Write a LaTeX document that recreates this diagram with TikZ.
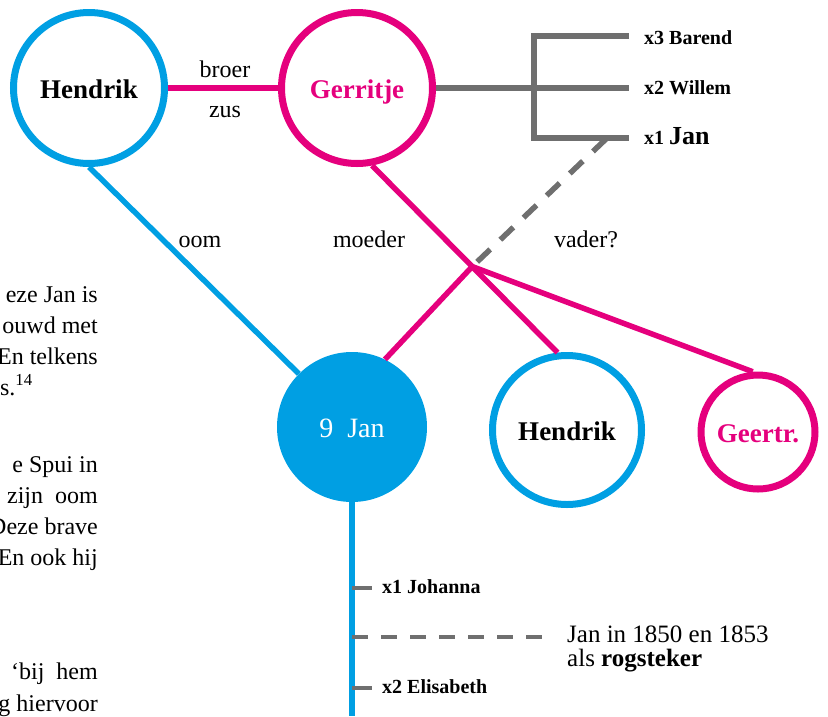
\documentclass[tikz,border=0pt]{standalone}
\usepackage{fontspec}
\setmainfont{Liberation Serif}
\usetikzlibrary{calc}
\definecolor{famblue}{HTML}{009FE3}
\definecolor{fammagenta}{HTML}{E5007D}
\definecolor{famgray}{HTML}{6F6F6F}
\tikzset{
  person/.style={circle,draw,line width=7pt,inner sep=0pt,minimum size=151pt,text height=20pt,text depth=0pt,font=\fontsize{27}{30}\selectfont\bfseries},
  man/.style={person,draw=famblue},
  woman/.style={person,draw=fammagenta,text=fammagenta},
  kid/.style={circle,fill=famblue,inner sep=0pt,minimum size=150pt,text height=20pt,text depth=0pt,text=white,font=\fontsize{28}{30}\selectfont},
  famline/.style={line width=5.5pt},
  grayline/.style={famgray,line width=5.5pt},
  tickline/.style={famgray,line width=3.5pt},
  guess/.style={grayline,dash pattern=on 18pt off 14pt},
  rel/.style={anchor=base,inner sep=0pt,font=\fontsize{24}{28}\selectfont},
  partner/.style={anchor=base west,inner sep=0pt,font=\fontsize{20}{24}\selectfont\bfseries},
  body/.style={anchor=base east,inner sep=0pt,font=\fontsize{24}{28}\selectfont}
}
\begin{document}
\begin{tikzpicture}[x=1pt,y=-1pt]
    \useasboundingbox (0,0) rectangle (828,716);
    \node[body] (body1) at (98,302) {eze Jan is};
    \node[body] (body2) at (98,333) {ouwd met};
    \node[body] (body3) at (98,364) {En telkens};
    \node[body] (body4) at (33,395) {rs.\textsuperscript{14}};
    \node[body] (body5) at (98,472) {e Spui in};
    \node[body] (body6) at (98,503) {zijn\ \ oom};
    \node[body] (body7) at (98,534) {Deze brave};
    \node[body] (body8) at (98,565) {En ook hij};
    \node[body] (body9) at (98,679) {`bij\ \ hem};
    \node[body] (body10) at (98,711) {g hiervoor};

    \node[man] (hendrik) at (89,88) {Hendrik};
    \node[woman] (gerritje) at (357,88) {Gerritje};
    \node[kid] (jan) at (352,427) {9\ \ Jan};
    \node[man,minimum size=149pt] (hendrikb) at (567,430) {Hendrik};
    \node[woman,minimum size=114pt] (geertr) at (758,432) {Geertr.};

    \node[partner] (barend) at (644,44) {x3 Barend};
    \node[partner] (willem) at (644,94) {x2 Willem};
    \node[partner] (janx) at (644,144) {x1 {\fontsize{26}{28}\selectfont Jan}};
    \node[partner] (johanna) at (382,593) {x1 Johanna};
    \node[partner] (elisabeth) at (382,693) {x2 Elisabeth};
    \node[anchor=north west,inner sep=0pt,align=left,font=\fontsize{25}{24}\selectfont] (rogsteker) at (567,626) {Jan in 1850 en 1853\\als \textbf{rogsteker}};

    \node[rel] (broer) at (225,77) {broer};
    \node[rel] (zus) at (225,117) {zus};
    \node[rel] (oom) at (200,247) {oom};
    \node[rel] (moeder) at (369,247) {moeder};
    \node[rel] (vader) at (586,247) {vader?};

    \draw[famline,fammagenta] (hendrik) -- (gerritje);
    \draw[famline,famblue] (hendrik.-90) -- (jan.135);
    \draw[famline,fammagenta] (gerritje.-79) -- (hendrikb.97);
    \coordinate (kruis) at ($(gerritje.-79)!0.54!(hendrikb.97)$);
    \draw[famline,fammagenta] (kruis) -- (jan.64);
    \draw[famline,fammagenta] (kruis) -- (geertr.95);

    \coordinate (bartop) at (534,36);
    \coordinate (barbot) at (534,138);
    \coordinate (tick3) at (629,36);
    \coordinate (tick2) at (629,88);
    \coordinate (tick1) at (629,138);
    \coordinate (jantick) at (606,139);
    \draw[grayline] (tick3) -- (bartop) -- (barbot) -- (tick1);
    \draw[grayline] (gerritje.east) -- (tick2);
    \draw[guess] (jantick) -- (kruis);

    \coordinate (janend) at (352,716);
    \coordinate (wed1) at (352,588);
    \coordinate (werk) at (352,637);
    \coordinate (wed2) at (352,688);
    \draw[famline,famblue] (jan.south) -- (janend);
    \draw[tickline,shorten >=10pt] (wed1) -- (wed1 -| johanna.west);
    \draw[tickline,shorten >=10pt] (wed2) -- (wed2 -| elisabeth.west);
    \draw[tickline,dash pattern=on 16pt off 13pt,shorten >=20pt] (werk) -- (werk -| rogsteker.west);
  \end{tikzpicture}
\end{document}
